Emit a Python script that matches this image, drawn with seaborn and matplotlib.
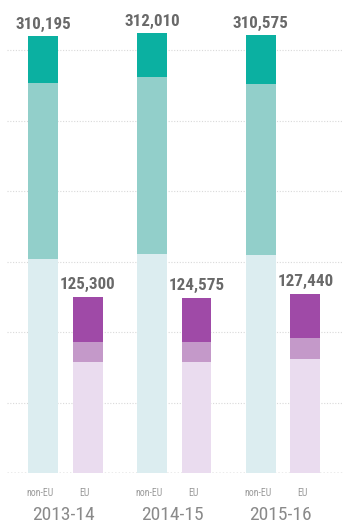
import matplotlib
matplotlib.use("Agg")
import matplotlib.pyplot as plt
import matplotlib.transforms as mtransforms
from matplotlib import font_manager as fm
import numpy as np
import pandas as pd
import seaborn as sns

# ---- data ----
years = ["2013-14", "2014-15", "2015-16"]
groups = ["non-EU", "EU"]
non_eu_totals = [310195, 312010, 310575]
eu_totals = [125300, 124575, 127440]
non_eu_lower = [151800, 155500, 154800]
non_eu_middle = [124800, 125800, 121300]
eu_lower = [79100, 79100, 80800]
eu_middle = [14200, 14200, 14900]
grid_values = [50000, 100000, 150000, 200000, 250000, 300000]

# colours
teal = ["#dcedf0", "#92cfca", "#0bb0a1"]
purple = ["#eadcef", "#c499c9", "#9f4aa7"]

rows = []
for i, y in enumerate(years):
    rows.append(dict(year=y, group="non-EU", total=non_eu_totals[i],
                     c2=non_eu_lower[i] + non_eu_middle[i], c1=non_eu_lower[i]))
    rows.append(dict(year=y, group="EU", total=eu_totals[i],
                     c2=eu_lower[i] + eu_middle[i], c1=eu_lower[i]))
df = pd.DataFrame(rows)

sns.set_theme(style="white")

# pick a condensed font if one is installed
fonts = fm.fontManager.ttflist
names = {f.name for f in fonts}
family, stretch = ["DejaVu Sans"], "normal"
for cand in ["Roboto Condensed", "Liberation Sans Narrow", "Open Sans Condensed",
             "DejaVu Sans Condensed"]:
    if cand in names:
        family, stretch = [cand, "DejaVu Sans"], "normal"
        break
else:
    if any(f.name == "DejaVu Sans" and str(f.stretch) in ("condensed", "semi-condensed")
           for f in fonts):
        family, stretch = ["DejaVu Sans"], "condensed"
plt.rcParams["font.family"] = family
plt.rcParams["font.stretch"] = stretch

fig = plt.figure(figsize=(3.43, 5.29), dpi=100)
base_frac = (529 - 473.3) / 529
ax = fig.add_axes([7 / 343, base_frac, 1 - 7 / 343, 1 - base_frac])

common = dict(data=df, x="year", hue="group", order=years, hue_order=groups,
              width=0.82, gap=0.33, saturation=1, errorbar=None,
              legend=False, linewidth=0, ax=ax)

sns.barplot(y="total", palette={"non-EU": teal[2], "EU": purple[2]}, **common)
total_patches = list(ax.patches)
sns.barplot(y="c2", palette={"non-EU": teal[1], "EU": purple[1]}, **common)
sns.barplot(y="c1", palette={"non-EU": teal[0], "EU": purple[0]}, **common)

ax.set_xlim(-0.535, 2.55)
ax.set_ylim(0, 335700)

renderer = fig.canvas.get_renderer()


def fit_text(t, target_w, max_size):
    """shrink font so that text width matches the reference width (px)."""
    t.set_fontsize(max_size)
    w = t.get_window_extent(renderer).width
    if w > target_w:
        t.set_fontsize(max_size * target_w / w)


trans = mtransforms.blended_transform_factory(ax.transData, ax.transAxes)
for p in total_patches:
    h = p.get_height()
    if np.isnan(h) or h <= 0:
        continue
    cx = p.get_x() + p.get_width() / 2
    t = ax.text(cx, h + 3000, f"{int(round(h)):,}", ha="center", va="bottom",
                fontweight="bold", color="#696969")
    fit_text(t, 56, 13.5)
    fc = matplotlib.colors.to_hex(p.get_facecolor())
    lab = "non-EU" if fc == teal[2] else "EU"
    ax.text(cx - 0.025, -0.0423, lab, transform=trans, ha="center",
            va="center", color="#9a9a9a", fontsize=7)

for i, y in enumerate(years):
    t = ax.text(i - 0.02, -0.088, y, transform=trans, ha="center", va="center",
                color="#8a8a8a")
    fit_text(t, 65, 14)

ax.set_yticks(grid_values)
ax.set_xticks([])
ax.set_yticklabels([])
ax.tick_params(left=False, bottom=False)
ax.set_xlabel("")
ax.set_ylabel("")
ax.grid(axis="y", linestyle=(0, (1, 1.5)), color="#d9d9d9", linewidth=0.8)
ax.set_axisbelow(True)
ax.axhline(0, linestyle=(0, (1, 1.5)), color="#9a9a9a", linewidth=1, zorder=0.5)
for s in ax.spines.values():
    s.set_visible(False)
ax.patch.set_alpha(0)

fig.savefig("out.png", dpi=100)
